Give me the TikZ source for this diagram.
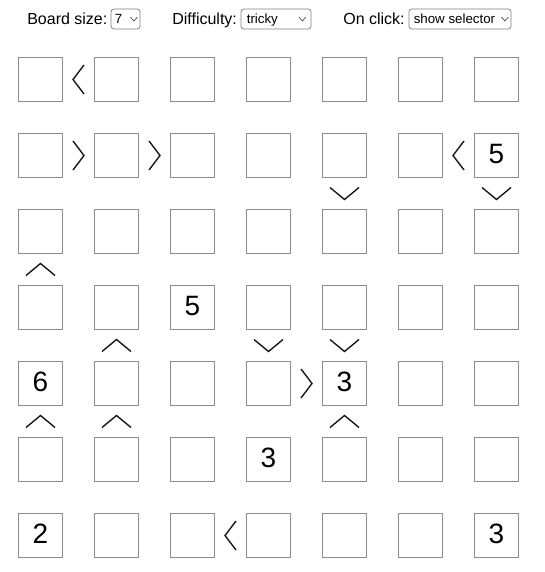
\documentclass[tikz,border=0pt]{standalone}
\usepackage{fontspec}
\setmainfont{Liberation Sans}
\usetikzlibrary{calc}

\begin{document}
\begin{tikzpicture}[x=1pt,y=1pt,node distance=76pt,semithick]
\tikzstyle{cell}=[draw=black!45,line width=1pt,minimum size=44pt,inner sep=0pt]
\tikzstyle{digit}=[font=\fontsize{28}{28}\selectfont,inner sep=0pt]
\tikzstyle{hdr}=[font=\fontsize{16}{16}\selectfont,anchor=base west,inner sep=0pt]
\tikzstyle{pick}=[draw=black!50,rounded corners=3pt,line width=.8pt,minimum height=20pt,inner sep=0pt]
\tikzstyle{picktext}=[font=\fontsize{13.3}{13.3}\selectfont,anchor=base west,inner sep=0pt]
\tikzstyle{chev}=[black!90,line width=1.4pt]
\tikzstyle{caret}=[black!70,line width=.7pt]
\tikzset{
  ltmark/.pic={\draw[chev] (5.5,14.5) -- (-5.5,0) -- (5.5,-14.5);},
  gtmark/.pic={\draw[chev] (-5.5,14.5) -- (5.5,0) -- (-5.5,-14.5);},
  upmark/.pic={\draw[chev] (-14.5,-6) -- (0,6) -- (14.5,-6);},
  dnmark/.pic={\draw[chev] (-14.5,6) -- (0,-6) -- (14.5,6);},
  caretmark/.pic={\draw[caret] (-3.5,2) -- (0,-2) -- (3.5,2);}
}
\useasboundingbox (0,0) rectangle (544,-572);

% header with the three selects
\node[hdr] (bsize) at (27,-25) {Board size:};
\node[pick,minimum width=29pt] (sizebox) at (125.5,-19) {};
\node[picktext] (sizeval) at (114.5,-24) {7};
\path (sizebox.east) ++(-6.5,0) pic{caretmark};

\node[hdr] (diff) at (172,-25) {Difficulty:};
\node[pick,minimum width=70pt] (diffbox) at (276,-19) {};
\node[picktext] (diffval) at (246.5,-24) {tricky};
\path (diffbox.east) ++(-9,0) pic{caretmark};

\node[hdr] (click) at (343,-25) {On click:};
\node[pick,minimum width=102pt] (clickbox) at (460,-19) {};
\node[picktext] (clickval) at (413.5,-24) {show selector};
\path (clickbox.east) ++(-6.5,0) pic{caretmark};

% board
\node[cell] (c11) at (40.5,-79.5) {};
\foreach \r [remember=\r as \p (initially 1)] in {2,...,7}
  \node[cell,below of=c\p1] (c\r1) {};
\foreach \r in {1,...,7}
  \foreach \c [remember=\c as \q (initially 1)] in {2,...,7}
    \node[cell,right of=c\r\q] (c\r\c) {};

% given numbers
\node[digit] (n27) at ([yshift=1.5pt]c27) {5};
\node[digit] (n43) at ([yshift=1.5pt]c43) {5};
\node[digit] (n51) at ([yshift=1.5pt]c51) {6};
\node[digit] (n55) at ([yshift=1.5pt]c55) {3};
\node[digit] (n64) at ([yshift=1.5pt]c64) {3};
\node[digit] (n71) at ([yshift=1.5pt]c71) {2};
\node[digit] (n77) at ([yshift=1.5pt]c77) {3};

% inequalities
\foreach \a/\b in {c11/c12,c26/c27,c73/c74}
  \path ($(\a)!.5!(\b)$) pic{ltmark};
\foreach \a/\b in {c21/c22,c22/c23,c54/c55}
  \path ($(\a)!.5!(\b)$) pic{gtmark};
\foreach \a/\b in {c31/c41,c42/c52,c51/c61,c52/c62,c55/c65}
  \path ($(\a)!.5!(\b)$) pic{upmark};
\foreach \a/\b in {c25/c35,c27/c37,c44/c54,c45/c55}
  \path ($(\a)!.5!(\b)$) pic{dnmark};
\end{tikzpicture}
\end{document}
